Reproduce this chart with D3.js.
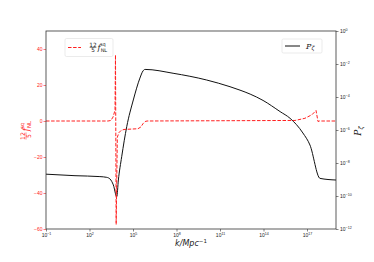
<!DOCTYPE html>
<html>
<head>
<meta charset="utf-8">
<script src="https://cdn.jsdelivr.net/npm/d3@7"></script>
<style>
  body { margin: 0; background: #fff; }
  svg { display: block; font-family: "DejaVu Sans", sans-serif; }
</style>
</head>
<body>
<div id="chart"></div>
<script>
// values
const powerK = [1e-1, 1e1, 5.2e2, 1.55e3, 2.6e3, 4.4e3, 7.6e3, 9.8e3, 1.66e4, 3.7e4, 1.05e5, 3.0e5,
  4.9e5, 6.8e5, 5.8e7, 1.2e10, 4.9e11, 2.4e12, 1.2e13, 9.3e13, 1.4e15, 6.8e15, 5.2e16, 1.6e17, 7.9e17, 1e19];
const powerP = [2.1e-9, 1.7e-9, 1.5e-9, 1.35e-9, 1.07e-9, 4.7e-10, 9.1e-11, 9.3e-10, 2.4e-8, 1.6e-6, 6.6e-5, 1.4e-3,
  3.8e-3, 4.7e-3, 2.75e-3, 1.07e-3, 4.2e-4, 2.6e-4, 1.5e-4, 6.2e-5, 1.3e-5, 5.1e-6, 6.6e-7, 1.23e-7, 1.17e-9, 9.3e-10];

const fnlK = [1e-1, 1.9e3, 3.0e3, 4.2e3, 5.75e3, 6.2e3, 6.9e3, 8.3e3, 1.07e4, 1.48e4, 2.4e4, 2.2e5,
  3.5e5, 4.9e5, 6.8e5, 9.3e5, 1.5e16, 7.2e16, 2.2e17, 4.2e17, 5.75e17, 7e17, 1e19];
const fnlVal = [0, 0, 0.3, 2.2, 6, 36.7, -57.5, -9, -6.5, -5.3, -4.7, -4.3,
  -3.3, -1.5, -0.3, 0, 0.3, 1.5, 3.5, 5.8, -0.3, 0, 0];

const xTicks = [1e-1, 1e2, 1e5, 1e8, 1e11, 1e14, 1e17];
const leftTicks = [-60, -40, -20, 0, 20, 40];
const rightTicks = [1e-12, 1e-10, 1e-8, 1e-6, 1e-4, 1e-2, 1e0];

const width = 374, height = 262;
const margin = { top: 31, right: 38, bottom: 33, left: 46 };
const red = '#ff2020';

const svg = d3.select('#chart').append('svg')
  .attr('width', width)
  .attr('height', height);

const x = d3.scaleLog().domain([1e-1, 1e19]).range([margin.left, width - margin.right]);
const yLeft = d3.scaleLinear().domain([-60, 50]).range([height - margin.bottom, margin.top]);
const yRight = d3.scaleLog().domain([1e-12, 1e0]).range([height - margin.bottom, margin.top]);

function expLabel(sel, v) {
  const e = Math.round(Math.log10(v));
  sel.text('10');
  sel.append('tspan')
    .attr('dy', -2.5)
    .style('font-size', '3.6px')
    .text(e < 0 ? '\u2212' + (-e) : e);
}

// x axis
const xAxis = svg.append('g')
  .attr('transform', `translate(0,${height - margin.bottom})`)
  .call(d3.axisBottom(x).tickValues(xTicks).tickSize(2.5).tickFormat(''));
xAxis.select('.domain').remove();
xAxis.selectAll('line').attr('stroke', '#333').attr('stroke-width', 0.6);
xAxis.selectAll('.tick').append('text')
  .attr('y', 8)
  .attr('text-anchor', 'middle')
  .attr('fill', '#222')
  .style('font-size', '5px')
  .each(function(d) { expLabel(d3.select(this), d); });

// left axis
const lAxis = svg.append('g')
  .attr('transform', `translate(${margin.left},0)`)
  .call(d3.axisLeft(yLeft).tickValues(leftTicks).tickSize(2.5)
    .tickFormat(d => d < 0 ? '\u2212' + (-d) : d));
lAxis.select('.domain').remove();
lAxis.selectAll('line').attr('stroke', red).attr('stroke-width', 0.6);
lAxis.selectAll('text').attr('fill', red).attr('x', -3.5).style('font-size', '5px');

// right axis
const rAxis = svg.append('g')
  .attr('transform', `translate(${width - margin.right},0)`)
  .call(d3.axisRight(yRight).tickValues(rightTicks).tickSize(2.5).tickFormat(''));
rAxis.select('.domain').remove();
rAxis.selectAll('line').attr('stroke', '#333').attr('stroke-width', 0.6);
rAxis.selectAll('.tick').append('text')
  .attr('x', 4)
  .attr('dy', '0.35em')
  .attr('fill', '#222')
  .style('font-size', '5px')
  .each(function(d) { expLabel(d3.select(this), d); });

// clip for lines
svg.append('clipPath').attr('id', 'plot')
  .append('rect')
  .attr('x', margin.left).attr('y', margin.top)
  .attr('width', width - margin.left - margin.right)
  .attr('height', height - margin.top - margin.bottom);

// P_zeta line
const powerLine = d3.line()
  .x((d, i) => x(powerK[i]))
  .y(d => yRight(d))
  .curve(d3.curveMonotoneX);
svg.append('path')
  .datum(powerP)
  .attr('clip-path', 'url(#plot)')
  .attr('d', powerLine)
  .attr('fill', 'none')
  .attr('stroke', '#111')
  .attr('stroke-width', 1);

// f_NL line
const fnlLine = d3.line()
  .x((d, i) => x(fnlK[i]))
  .y(d => yLeft(d));
svg.append('path')
  .datum(fnlVal)
  .attr('clip-path', 'url(#plot)')
  .attr('d', fnlLine)
  .attr('fill', 'none')
  .attr('stroke', red)
  .attr('stroke-width', 1)
  .attr('stroke-dasharray', '3.5,1.6');

// frame
svg.append('rect')
  .attr('x', margin.left).attr('y', margin.top)
  .attr('width', width - margin.left - margin.right)
  .attr('height', height - margin.top - margin.bottom)
  .attr('fill', 'none')
  .attr('stroke', '#333')
  .attr('stroke-width', 0.8);

// helper: 12/5 f_NL^sq label, fraction centred at the group origin
function fnlLabel(g, color, size) {
  g.append('text').attr('x', 0).attr('y', -size * 0.12)
    .attr('text-anchor', 'middle').attr('fill', color)
    .style('font-size', (size * 0.72) + 'px').text('12');
  g.append('line').attr('x1', -size * 0.42).attr('x2', size * 0.42)
    .attr('y1', 0).attr('y2', 0)
    .attr('stroke', color).attr('stroke-width', 0.5);
  g.append('text').attr('x', 0).attr('y', size * 0.62)
    .attr('text-anchor', 'middle').attr('fill', color)
    .style('font-size', (size * 0.72) + 'px').text('5');
  const t = g.append('text').attr('x', size * 0.55).attr('y', size * 0.35)
    .attr('fill', color).style('font-size', size + 'px');
  t.append('tspan').style('font-style', 'italic').style('font-family', 'DejaVu Serif').text('f');
  t.append('tspan').attr('dx', 0.3).attr('dy', size * 0.22).style('font-size', (size * 0.62) + 'px').text('NL');
  t.append('tspan').attr('dx', -size * 0.9).attr('dy', -size * 0.8)
    .style('font-size', (size * 0.62) + 'px').text('sq');
}

// left y label
const yl = svg.append('g').attr('transform', 'translate(26,130) rotate(-90)');
fnlLabel(yl.append('g').attr('transform', 'translate(-6,0)'), red, 8.5);

// right y label
const yr = svg.append('text')
  .attr('transform', 'translate(361,131) rotate(-90)')
  .attr('text-anchor', 'middle')
  .attr('fill', '#222')
  .style('font-size', '9px');
yr.append('tspan').style('font-style', 'italic').style('font-family', 'DejaVu Serif').text('P');
yr.append('tspan').attr('dy', 2).style('font-size', '6px').style('font-style', 'italic').text('\u03B6');

// x label
const xl = svg.append('text')
  .attr('x', 191).attr('y', 246)
  .attr('text-anchor', 'middle')
  .attr('fill', '#222')
  .style('font-size', '8px');
xl.append('tspan').style('font-style', 'italic').text('k/Mpc');
xl.append('tspan').attr('dy', -3).style('font-size', '5.5px').text('\u22121');

// legend left
const lg1 = svg.append('g');
lg1.append('rect').attr('x', 65).attr('y', 38.5).attr('width', 48).attr('height', 18).attr('rx', 1.5)
  .attr('fill', '#fff').attr('stroke', '#ddd').attr('stroke-width', 0.6);
lg1.append('line').attr('x1', 68).attr('x2', 81).attr('y1', 47.5).attr('y2', 47.5)
  .attr('stroke', red).attr('stroke-width', 1).attr('stroke-dasharray', '3.5,1.6');
fnlLabel(lg1.append('g').attr('transform', 'translate(93,47.5)'), '#222', 8);

// legend right
const lg2 = svg.append('g');
lg2.append('rect').attr('x', 282).attr('y', 39).attr('width', 40).attr('height', 14).attr('rx', 1.5)
  .attr('fill', '#fff').attr('stroke', '#ddd').attr('stroke-width', 0.6);
lg2.append('line').attr('x1', 285).attr('x2', 300).attr('y1', 46).attr('y2', 46)
  .attr('stroke', '#111').attr('stroke-width', 1);
const lt = lg2.append('text').attr('x', 306).attr('y', 48.5).attr('fill', '#222').style('font-size', '8px');
lt.append('tspan').style('font-style', 'italic').style('font-family', 'DejaVu Serif').text('P');
lt.append('tspan').attr('dy', 1.8).style('font-size', '5.5px').style('font-style', 'italic').text('\u03B6');
</script>
</body>
</html>
